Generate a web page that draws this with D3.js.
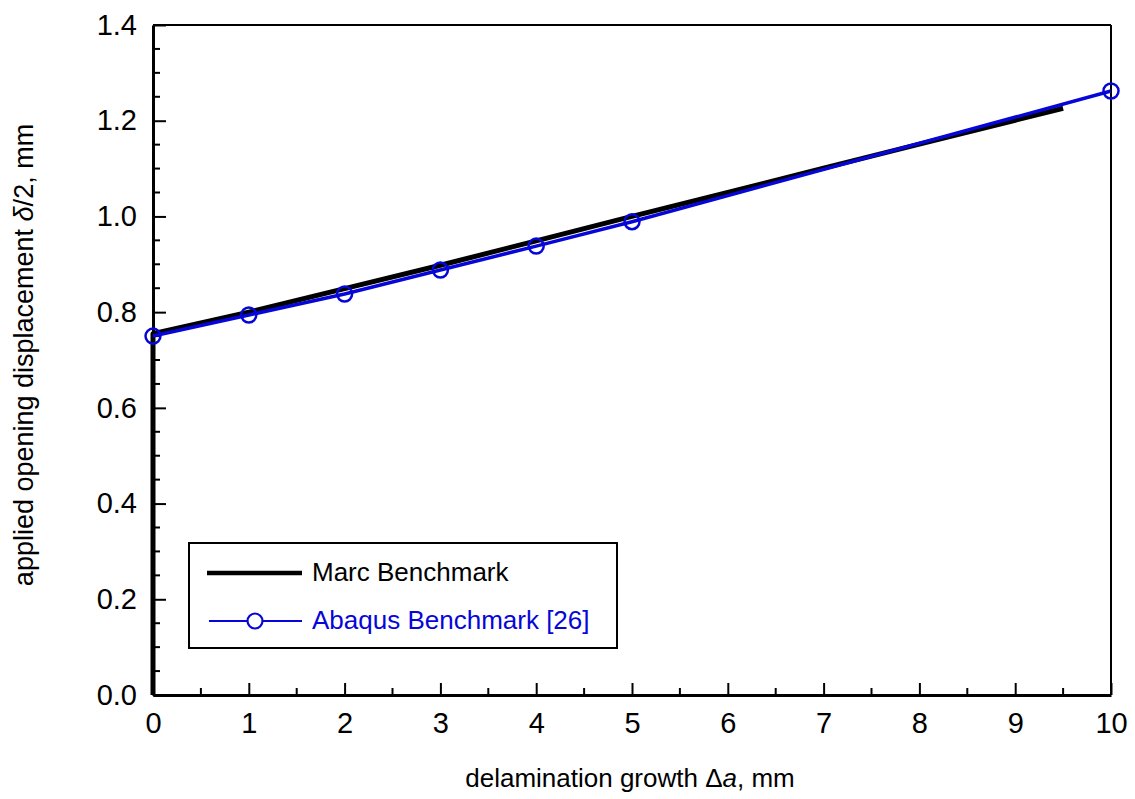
<!DOCTYPE html>
<html>
<head>
<meta charset="utf-8">
<script src="https://cdn.jsdelivr.net/npm/d3@7"></script>
<style>
  html, body { margin: 0; padding: 0; background: #fff; }
  svg { display: block; }
  text { font-family: "Liberation Sans", Arial, Helvetica, sans-serif; }
</style>
</head>
<body>
<svg id="chart" width="1135" height="799"></svg>
<script>
// Delamination growth (mm) vs applied opening displacement delta/2 (mm)
const marcX = [0, 0, 1, 2, 3, 4, 5, 6, 7, 8, 9, 9.5];
const marcY = [0, 0.755, 0.800, 0.849, 0.898, 0.949, 1.000, 1.050, 1.101, 1.151, 1.201, 1.226];

const abaqusX = [0, 1, 2, 3, 4, 5, 10];
const abaqusY = [0.750, 0.794, 0.838, 0.888, 0.938, 0.989, 1.262];

const xTicks = [0, 1, 2, 3, 4, 5, 6, 7, 8, 9, 10];
const yTicks = [0.0, 0.2, 0.4, 0.6, 0.8, 1.0, 1.2, 1.4];

const BLUE = "#0606d8";

const svg = d3.select("#chart");
const plotL = 153, plotR = 1111, plotT = 25, plotB = 695;

const x = d3.scaleLinear().domain([0, 10]).range([plotL, plotR]);
const y = d3.scaleLinear().domain([0, 1.4]).range([plotB, plotT]);

// Frame: top and right borders
svg.append("line").attr("x1", plotL).attr("x2", plotR).attr("y1", plotT).attr("y2", plotT)
  .attr("stroke", "#000").attr("stroke-width", 2);
svg.append("line").attr("x1", plotR).attr("x2", plotR).attr("y1", plotT).attr("y2", plotB)
  .attr("stroke", "#000").attr("stroke-width", 2);

// Minor ticks (every 0.5 on x, 0.05 on y)
const xMinor = d3.range(0.5, 10, 1);
const yMinor = d3.range(1, 28).map(i => i * 0.05).filter(v => Math.abs(v / 0.2 - Math.round(v / 0.2)) > 1e-6);

// Bottom axis with ticks pointing inward
const xAxis = d3.axisBottom(x).tickValues(xTicks).tickFormat(d3.format("d")).tickSizeInner(-12).tickSizeOuter(0).tickPadding(17);
const gx = svg.append("g").attr("transform", `translate(0,${plotB})`).call(xAxis);
gx.select(".domain").attr("stroke-width", 3);
gx.selectAll(".tick line").attr("stroke-width", 2);
gx.selectAll(".tick text").attr("font-size", 29).attr("fill", "#000")
  .attr("font-family", "'Liberation Sans', Arial, sans-serif");
svg.append("g").selectAll("line").data(xMinor).join("line")
  .attr("x1", d => x(d)).attr("x2", d => x(d))
  .attr("y1", plotB).attr("y2", plotB - 7)
  .attr("stroke", "#000").attr("stroke-width", 2);

// Left axis with ticks pointing inward
const yAxis = d3.axisLeft(y).tickValues(yTicks).tickFormat(d3.format(".1f")).tickSizeInner(-13).tickSizeOuter(0).tickPadding(16);
const gy = svg.append("g").attr("transform", `translate(${plotL},0)`).call(yAxis);
gy.select(".domain").attr("stroke-width", 3);
gy.selectAll(".tick line").attr("stroke-width", 2);
gy.selectAll(".tick text").attr("font-size", 29).attr("fill", "#000")
  .attr("font-family", "'Liberation Sans', Arial, sans-serif");
svg.append("g").selectAll("line").data(yMinor).join("line")
  .attr("x1", plotL).attr("x2", plotL + 7)
  .attr("y1", d => y(d)).attr("y2", d => y(d))
  .attr("stroke", "#000").attr("stroke-width", 2);

// Axis titles
const yt = svg.append("text")
  .attr("transform", `translate(33,355) rotate(-90)`)
  .attr("text-anchor", "middle").attr("font-size", 27).attr("fill", "#000");
yt.append("tspan").text("applied opening displacement ");
yt.append("tspan").attr("font-style", "italic").text("δ");
yt.append("tspan").text("/2, mm");

const xt = svg.append("text")
  .attr("x", 630).attr("y", 787)
  .attr("text-anchor", "middle").attr("font-size", 26).attr("fill", "#000");
xt.append("tspan").text("delamination growth Δ");
xt.append("tspan").attr("font-style", "italic").text("a");
xt.append("tspan").text(", mm");

// Series
const marc = marcX.map((d, i) => [d, marcY[i]]);
const abaqus = abaqusX.map((d, i) => [d, abaqusY[i]]);
const line = d3.line().x(d => x(d[0])).y(d => y(d[1]));

svg.append("path").datum(marc).attr("d", line)
  .attr("fill", "none").attr("stroke", "#000").attr("stroke-width", 5)
  .attr("stroke-linejoin", "round");

svg.append("path").datum(abaqus).attr("d", line)
  .attr("fill", "none").attr("stroke", BLUE).attr("stroke-width", 3.5);

svg.append("g").selectAll("circle").data(abaqus).join("circle")
  .attr("cx", d => x(d[0])).attr("cy", d => y(d[1])).attr("r", 7.5)
  .attr("fill", "none").attr("stroke", BLUE).attr("stroke-width", 2.5);

// Legend
const lg = svg.append("g");
lg.append("rect").attr("x", 189).attr("y", 543).attr("width", 428).attr("height", 105)
  .attr("fill", "#fff").attr("stroke", "#000").attr("stroke-width", 2);
lg.append("line").attr("x1", 207).attr("x2", 302).attr("y1", 573).attr("y2", 573)
  .attr("stroke", "#000").attr("stroke-width", 4.5);
lg.append("text").attr("x", 312).attr("y", 581).attr("font-size", 26).attr("fill", "#000")
  .text("Marc Benchmark");
lg.append("line").attr("x1", 209).attr("x2", 302).attr("y1", 621).attr("y2", 621)
  .attr("stroke", BLUE).attr("stroke-width", 2);
lg.append("circle").attr("cx", 255).attr("cy", 621).attr("r", 7.5)
  .attr("fill", "#fff").attr("stroke", BLUE).attr("stroke-width", 2.2);
lg.append("text").attr("x", 312).attr("y", 629).attr("font-size", 26).attr("fill", BLUE)
  .text("Abaqus Benchmark [26]");
</script>
</body>
</html>
